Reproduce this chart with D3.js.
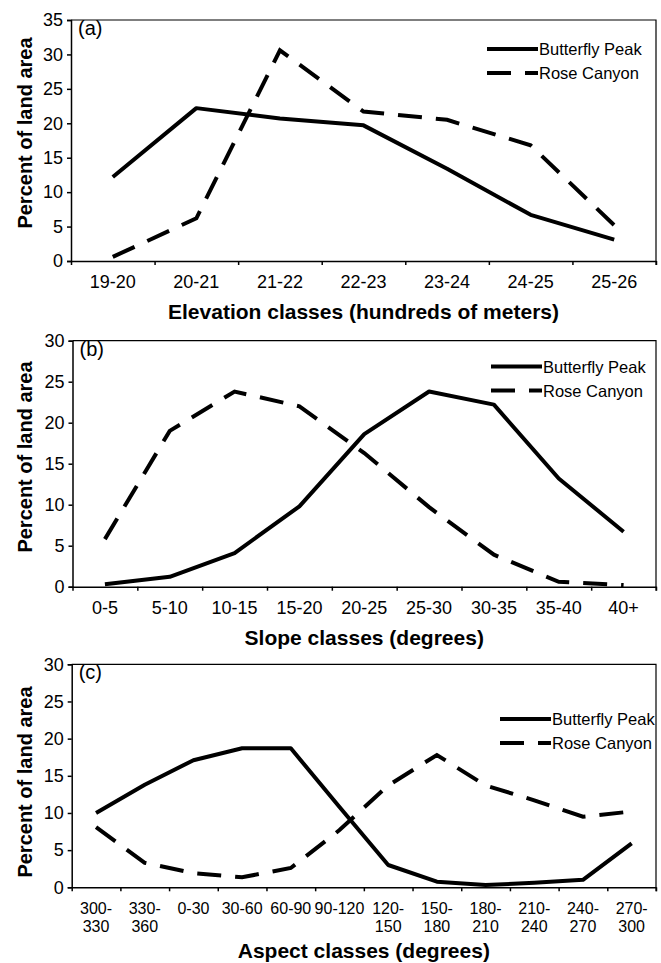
<!DOCTYPE html>
<html>
<head>
<meta charset="utf-8">
<script src="https://cdn.jsdelivr.net/npm/d3@7"></script>
<style>
  body { margin: 0; background: #fff; }
  text { font-family: "Liberation Sans", Arial, sans-serif; fill: #000; }
</style>
</head>
<body>
<div class="chart"></div>
<script>
// data
const elevCats = ["19-20", "20-21", "21-22", "22-23", "23-24", "24-25", "25-26"];
const elevButterfly = [12.2, 22.2, 20.7, 19.7, 13.4, 6.7, 3.1];
const elevRose = [0.6, 6.2, 30.6, 21.7, 20.5, 16.8, 5.2];

const slopeCats = ["0-5", "5-10", "10-15", "15-20", "20-25", "25-30", "30-35", "35-40", "40+"];
const slopeButterfly = [0.3, 1.2, 4.1, 9.8, 18.6, 23.8, 22.2, 13.2, 6.7];
const slopeRose = [5.8, 19.0, 23.8, 22.0, 16.3, 9.7, 3.9, 0.6, 0.2];

const aspectCats = ["300-\n330", "330-\n360", "0-30", "30-60", "60-90", "90-120", "120-\n150",
                    "150-\n180", "180-\n210", "210-\n240", "240-\n270", "270-\n300"];
const aspectButterfly = [10.0, 13.8, 17.1, 18.7, 18.7, 10.8, 3.0, 0.75, 0.3, 0.6, 1.0, 5.9];
const aspectRose = [8.1, 3.3, 1.9, 1.35, 2.6, 7.7, 13.7, 17.8, 13.7, 11.7, 9.5, 10.2];

const seriesNames = ["Butterfly Peak", "Rose Canyon"];
const ticks35 = [0, 5, 10, 15, 20, 25, 30, 35];
const ticks30 = [0, 5, 10, 15, 20, 25, 30];

function init(){
    const w = 661, h = 963;
    const svg = d3.select(".chart").append("svg").attr("width", w).attr("height", h);

    // layout of the three panels
    const panels = [
        {tag: "(a)", cats: elevCats, bp: elevButterfly, rc: elevRose, yticks: ticks35,
         x0: 71, x1: 656, top: 20, bottom: 261, title: "Elevation classes (hundreds of meters)",
         titleDy: 58, titleY: 133, legX: 487, legY: 49, labelSize: 18},
        {tag: "(b)", cats: slopeCats, bp: slopeButterfly, rc: slopeRose, yticks: ticks30,
         x0: 72.5, x1: 656, top: 340.7, bottom: 586.7, title: "Slope classes (degrees)",
         titleDy: 58, titleY: 457, legX: 491, legY: 366.5, labelSize: 18},
        {tag: "(c)", cats: aspectCats, bp: aspectButterfly, rc: aspectRose, yticks: ticks30,
         x0: 71.7, x1: 656, top: 664.3, bottom: 887.3, title: "Aspect classes (degrees)",
         titleDy: 71, titleY: 782, legX: 500, legY: 719, labelSize: 16}
    ];

    const dash = "24,14";

    panels.forEach(function(p){
        const g = svg.append("g");
        const n = p.cats.length;
        const x = d3.scaleBand().domain(p.cats).range([p.x0, p.x1]).padding(0);
        const xi = d3.scaleLinear().domain([0, n]).range([p.x0, p.x1]);
        const y = d3.scaleLinear().domain([0, d3.max(p.yticks)]).range([p.bottom, p.top]);

        // frame (top and right)
        g.append("path")
            .attr("d", `M${p.x0},${p.top}H${p.x1}V${p.bottom + 4}`)
            .attr("fill", "none").attr("stroke", "#000").attr("stroke-width", 1.2);

        // y axis
        g.append("g")
            .attr("transform", `translate(${p.x0},0)`)
            .call(d3.axisLeft(y).tickValues(p.yticks).tickSize(4).tickPadding(4))
            .call(a => a.selectAll("text").attr("font-size", 18).attr("font-family", "Liberation Sans, Arial"))
            .call(a => a.selectAll("line, path").attr("stroke", "#000").attr("stroke-width", 1.5));

        // x axis, ticks between categories
        g.append("g")
            .attr("transform", `translate(0,${p.bottom})`)
            .call(d3.axisBottom(xi).tickValues(d3.range(n + 1)).tickFormat("").tickSize(4).tickSizeOuter(0))
            .call(a => a.selectAll("line, path").attr("stroke", "#000").attr("stroke-width", 1.5));

        // category labels
        p.cats.forEach(function(c){
            const t = g.append("text")
                .attr("x", x(c) + x.bandwidth() / 2)
                .attr("y", p.bottom + 27)
                .attr("text-anchor", "middle")
                .attr("font-size", p.labelSize);
            c.split("\n").forEach(function(line, i){
                t.append("tspan")
                    .attr("x", x(c) + x.bandwidth() / 2)
                    .attr("dy", i === 0 ? 0 : 18)
                    .text(line);
            });
        });

        // axis titles
        g.append("text")
            .attr("x", (p.x0 + p.x1) / 2)
            .attr("y", p.bottom + p.titleDy)
            .attr("text-anchor", "middle")
            .attr("font-size", 21).attr("font-weight", "bold")
            .text(p.title);

        g.append("text")
            .attr("transform", `translate(32,${p.titleY}) rotate(-90)`)
            .attr("text-anchor", "middle")
            .attr("font-size", 20).attr("font-weight", "bold")
            .text("Percent of land area");

        // panel tag
        g.append("text")
            .attr("x", p.x0 + 7).attr("y", p.top + 15)
            .attr("font-size", 20)
            .text(p.tag);

        // lines
        const line = d3.line()
            .x((d, i) => x(p.cats[i]) + x.bandwidth() / 2)
            .y(d => y(d));

        g.append("path").datum(p.bp)
            .attr("d", line)
            .attr("fill", "none").attr("stroke", "#000").attr("stroke-width", 4)
            .attr("stroke-linejoin", "round");

        g.append("path").datum(p.rc)
            .attr("d", line)
            .attr("fill", "none").attr("stroke", "#000").attr("stroke-width", 4)
            .attr("stroke-dasharray", dash);

        // legend
        seriesNames.forEach(function(name, i){
            const ly = p.legY + i * 24;
            g.append("line")
                .attr("x1", p.legX).attr("x2", p.legX + 51)
                .attr("y1", ly).attr("y2", ly)
                .attr("stroke", "#000").attr("stroke-width", 4)
                .attr("stroke-dasharray", i === 0 ? null : dash);
            g.append("text")
                .attr("x", p.legX + 52).attr("y", ly + 6)
                .attr("font-size", 16.5)
                .text(name);
        });
    });
}
window.onload = init;
</script>
</body>
</html>
